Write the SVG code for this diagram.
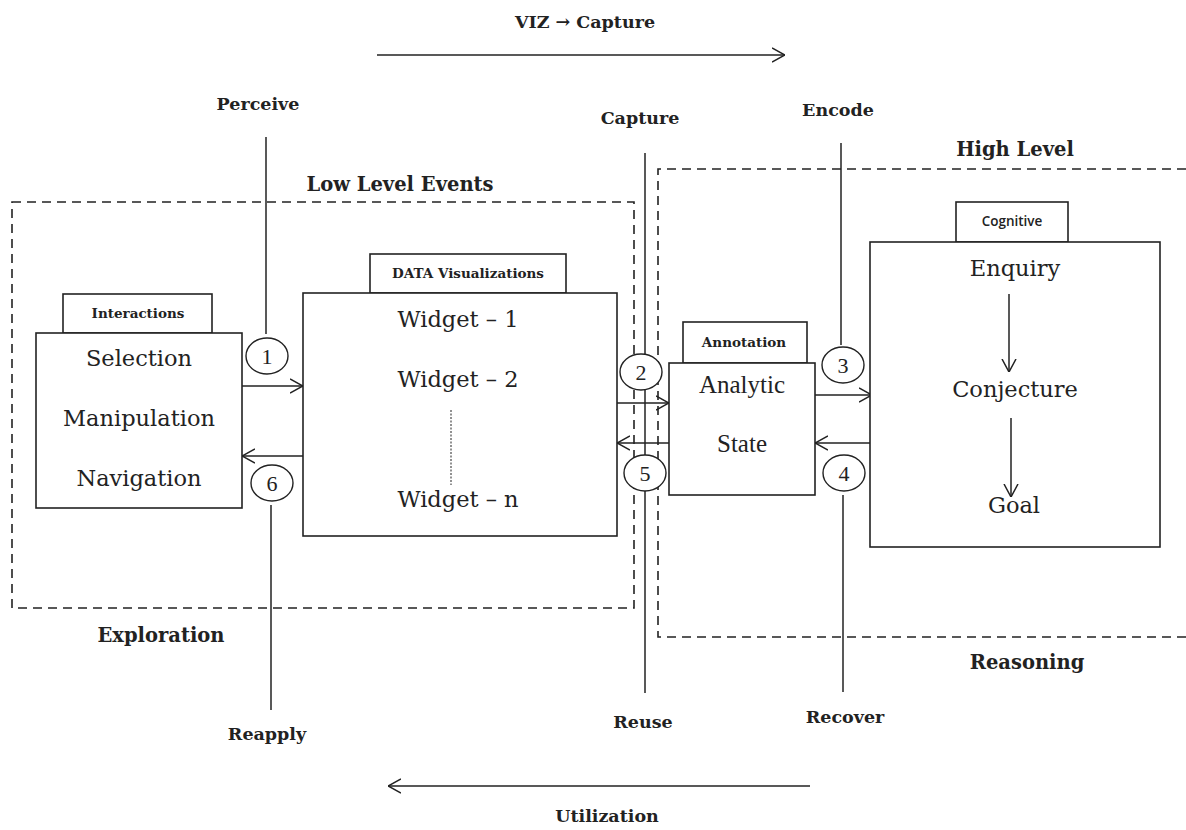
<svg xmlns="http://www.w3.org/2000/svg" width="1186" height="830" viewBox="0 0 1186 830">
  <style>
    .zone { fill: none; stroke: #222; stroke-width: 1.6; stroke-dasharray: 9 6; }
    .box { fill: #fff; stroke: #222; stroke-width: 1.6; }
    .ln { fill: none; stroke: #222; stroke-width: 1.5; }
    .arr { fill: none; stroke: #222; stroke-width: 1.5; marker-end: url(#chev); }
    .step { fill: #fff; stroke: #222; stroke-width: 1.4; }
    .lbl { font-family: "DejaVu Serif", "Liberation Serif", serif; font-weight: bold; font-size: 17.5px; fill: #222; text-anchor: middle; }
    .head { font-family: "DejaVu Serif", "Liberation Serif", serif; font-weight: bold; font-size: 19.5px; fill: #222; text-anchor: middle; }
    .tab { font-family: "DejaVu Serif", "Liberation Serif", serif; font-weight: bold; font-size: 13.5px; fill: #222; text-anchor: middle; }
    .tabs { font-family: "Open Sans", "Liberation Sans", sans-serif; font-weight: 600; font-size: 13.5px; fill: #222; text-anchor: middle; }
    .item { font-family: "DejaVu Serif", "Liberation Serif", serif; font-size: 22.5px; fill: #222; text-anchor: middle; }
    .times { font-family: "Liberation Serif", "Times New Roman", serif; font-size: 25px; fill: #222; text-anchor: middle; }
    .num { font-family: "Liberation Serif", "Times New Roman", serif; font-size: 22px; fill: #222; text-anchor: middle; }
  </style>
  <defs>
    <marker id="chev" viewBox="0 0 13 16" refX="13" refY="8" markerWidth="13" markerHeight="16" markerUnits="userSpaceOnUse" orient="auto">
      <path d="M0,1 L13,8 L0,15" fill="none" stroke="#222" stroke-width="1.5"/>
    </marker>
  </defs>

  <rect width="1186" height="830" fill="#fff"/>

  <!-- process direction banners -->
  <g id="viz-capture">
    <text class="lbl" x="585" y="28">VIZ → Capture</text>
    <line class="arr" x1="377" y1="55" x2="785" y2="55"/>
  </g>
  <g id="utilization">
    <line class="arr" x1="810" y1="786" x2="388" y2="786"/>
    <text class="lbl" x="607" y="822">Utilization</text>
  </g>

  <!-- dashed zones -->
  <g id="zone-low">
    <rect class="zone" x="12" y="202" width="622" height="406"/>
    <text class="head" x="400" y="191">Low Level Events</text>
    <text class="head" x="161" y="642">Exploration</text>
  </g>
  <g id="zone-high">
    <path class="zone" d="M1186,169 H658 V637 H1186"/>
    <text class="head" x="1015" y="156">High Level</text>
    <text class="head" x="1027" y="669">Reasoning</text>
  </g>

  <!-- stage connectors -->
  <g id="connectors">
    <line class="ln" x1="266" y1="137" x2="266" y2="334"/>
    <line class="ln" x1="271" y1="505" x2="271" y2="710"/>
    <line class="ln" x1="645" y1="153" x2="645" y2="693"/>
    <line class="ln" x1="841" y1="143" x2="841" y2="345"/>
    <line class="ln" x1="843" y1="495" x2="843" y2="692"/>

    <line class="arr" x1="242" y1="386" x2="303" y2="386"/>
    <line class="arr" x1="303" y1="456" x2="242" y2="456"/>
    <line class="arr" x1="616" y1="403" x2="669" y2="403"/>
    <line class="arr" x1="669" y1="443" x2="617" y2="443"/>
    <line class="arr" x1="815" y1="395" x2="872" y2="395"/>
    <line class="arr" x1="870" y1="443" x2="815" y2="443"/>
  </g>

  <!-- stage labels -->
  <g id="stage-labels">
    <text class="lbl" x="258" y="110">Perceive</text>
    <text class="lbl" x="640" y="124">Capture</text>
    <text class="lbl" x="838" y="116">Encode</text>
    <text class="lbl" x="267" y="740">Reapply</text>
    <text class="lbl" x="643" y="728">Reuse</text>
    <text class="lbl" x="845" y="723">Recover</text>
  </g>

  <!-- step markers -->
  <g id="step-1"><ellipse class="step" cx="267" cy="356" rx="21" ry="18"/><text class="num" x="267" y="364">1</text></g>
  <g id="step-2"><ellipse class="step" cx="641" cy="372" rx="21" ry="18"/><text class="num" x="641" y="380">2</text></g>
  <g id="step-3"><ellipse class="step" cx="843" cy="365" rx="21" ry="18"/><text class="num" x="843" y="373">3</text></g>
  <g id="step-4"><ellipse class="step" cx="844" cy="473" rx="21" ry="18"/><text class="num" x="844" y="481">4</text></g>
  <g id="step-5"><ellipse class="step" cx="645" cy="473" rx="21" ry="18"/><text class="num" x="645" y="481">5</text></g>
  <g id="step-6"><ellipse class="step" cx="272" cy="483" rx="21" ry="18"/><text class="num" x="272" y="491">6</text></g>

  <!-- interactions -->
  <g id="interactions">
    <rect class="box" x="63" y="294" width="149" height="39"/>
    <text class="tab" x="138" y="318">Interactions</text>
    <rect class="box" x="36" y="333" width="206" height="175"/>
    <text class="item" x="139" y="366">Selection</text>
    <text class="item" x="139" y="426">Manipulation</text>
    <text class="item" x="139" y="486">Navigation</text>
  </g>

  <!-- data visualizations -->
  <g id="data-visualizations">
    <rect class="box" x="370" y="254" width="196" height="39"/>
    <text class="tab" x="468" y="278">DATA Visualizations</text>
    <rect class="box" x="303" y="293" width="314" height="243"/>
    <text class="item" x="458" y="327">Widget – 1</text>
    <text class="item" x="458" y="387">Widget – 2</text>
    <line x1="451" y1="410" x2="451" y2="485" stroke="#222" stroke-width="1" stroke-dasharray="2 1.5"/>
    <text class="item" x="458" y="507">Widget – n</text>
  </g>

  <!-- annotation -->
  <g id="annotation">
    <rect class="box" x="683" y="322" width="124" height="41"/>
    <text class="tab" x="744" y="347">Annotation</text>
    <rect class="box" x="669" y="363" width="146" height="132"/>
    <text class="times" x="742" y="393">Analytic</text>
    <text class="times" x="742" y="452">State</text>
  </g>

  <!-- cognitive -->
  <g id="cognitive">
    <rect class="box" x="956" y="202" width="112" height="40"/>
    <text class="tabs" x="1012" y="226">Cognitive</text>
    <rect class="box" x="870" y="242" width="290" height="305"/>
    <text class="item" x="1015" y="276">Enquiry</text>
    <text class="item" x="1015" y="397">Conjecture</text>
    <text class="item" x="1014" y="513">Goal</text>
    <line class="arr" x1="1009" y1="294" x2="1009" y2="372"/>
    <line class="arr" x1="1011" y1="418" x2="1011" y2="497"/>
  </g>
</svg>
